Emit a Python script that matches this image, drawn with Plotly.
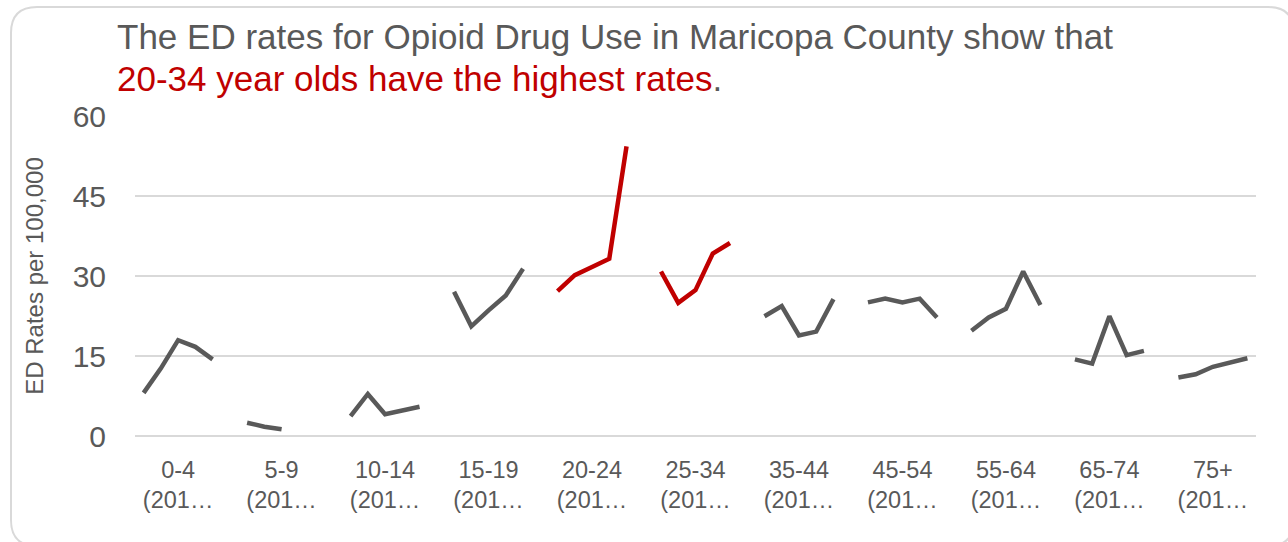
import plotly.graph_objects as go

# ---- data ----
age_groups = ["0-4", "5-9", "10-14", "15-19", "20-24", "25-34",
              "35-44", "45-54", "55-64", "65-74", "75+"]
tick_labels = [g + "<br>(201…" for g in age_groups]
highlight = ["20-24", "25-34"]
rates = {
    "0-4":   [8.1, 12.7, 18.0, 16.75, 14.4],
    "5-9":   [2.5, 1.75, 1.25, None, None],
    "10-14": [3.75, 7.9, 4.1, 4.9, 5.5],
    "15-19": [27.1, 20.6, 23.6, 26.4, 31.4],
    "20-24": [27.2, 30.2, 31.75, 33.3, 54.4],
    "25-34": [30.9, 25.0, 27.4, 34.25, 36.25],
    "35-44": [22.5, 24.4, 18.9, 19.6, 25.7],
    "45-54": [25.1, 25.8, 25.1, 25.8, 22.25],
    "55-64": [19.75, 22.25, 23.9, 30.9, 24.6],
    "65-74": [14.4, 13.6, 22.5, 15.2, 16.0],
    "75+":   [11.0, 11.6, 13.0, 13.8, 14.6],
}
y_ticks = [0, 15, 30, 45, 60]
title_line1 = "The ED rates for Opioid Drug Use in Maricopa County show that"
title_line2_red = "20-34 year olds have the highest rates"

GRAY = "#595959"
RED = "#C00000"
FONT = "Liberation Sans, Arial, sans-serif"

W, H = 1288, 542
L, R, T, B = 135, 32, 116, 106
PW, PH = W - L - R, H - T - B
YMAX = 60.1

SLOTS = 6  # 5 periods + a blank slot between groups

fig = go.Figure()
for gi, g in enumerate(age_groups):
    vals = rates[g]
    xs = [gi * SLOTS + k for k in range(len(vals))]
    fig.add_trace(go.Scatter(
        x=xs, y=vals, mode="lines", name=g, showlegend=False,
        line=dict(color=RED if g in highlight else GRAY, width=4.5),
        connectgaps=False, hoverinfo="skip",
    ))


def px2paper(px, py):
    return (px - L) / PW, (T + PH - py) / PH


def rounded_path(x0, y0, x1, y1, r):
    def P(px, py):
        a, b = px2paper(px, py)
        return f"{a:.5f},{b:.5f}"
    return (f"M {P(x0 + r, y0)} L {P(x1 - r, y0)} Q {P(x1, y0)} {P(x1, y0 + r)} "
            f"L {P(x1, y1 - r)} Q {P(x1, y1)} {P(x1 - r, y1)} "
            f"L {P(x0 + r, y1)} Q {P(x0, y1)} {P(x0, y1 - r)} "
            f"L {P(x0, y0 + r)} Q {P(x0, y0)} {P(x0 + r, y0)} Z")


fig.add_shape(type="path", xref="paper", yref="paper",
              path=rounded_path(11, 7, 1294, 546, 26),
              line=dict(color="#D9D9D9", width=2), layer="below")

# title lines as annotations
ax, ay1 = px2paper(115, 36)
_, ay2 = px2paper(115, 79)
fig.add_annotation(x=ax, y=ay1, xref="paper", yref="paper",
                   xanchor="left", yanchor="middle", showarrow=False,
                   text=title_line1,
                   font=dict(family=FONT, size=35, color=GRAY))
fig.add_annotation(x=ax, y=ay2, xref="paper", yref="paper",
                   xanchor="left", yanchor="middle", showarrow=False,
                   text=f"<span style='color:{RED}'>{title_line2_red}</span>.",
                   font=dict(family=FONT, size=35, color=GRAY))

fig.update_layout(
    width=W, height=H,
    margin=dict(l=L, r=R, t=T, b=B, autoexpand=False),
    paper_bgcolor="white", plot_bgcolor="white",
    font=dict(family=FONT, color=GRAY),
    xaxis=dict(range=[-0.5, len(age_groups) * SLOTS - 1.5],
               tickmode="array",
               tickvals=[gi * SLOTS + 2 for gi in range(len(age_groups))],
               ticktext=tick_labels,
               tickfont=dict(size=23.5, color=GRAY),
               showgrid=False, zeroline=False, showline=False,
               ticks="", ticklabelstandoff=17),
    yaxis=dict(range=[0, YMAX], tickmode="array", tickvals=y_ticks,
               tickfont=dict(size=30, color=GRAY),
               showgrid=True, gridcolor="#D9D9D9", gridwidth=1.5,
               zeroline=True, zerolinecolor="#D9D9D9", zerolinewidth=1.5,
               showline=False, ticks="", ticklabelstandoff=28,
               title=dict(text="ED Rates per 100,000",
                          font=dict(size=24, color=GRAY), standoff=22)),
)

fig.write_html("out.html",
               config={"displayModeBar": False},
               post_script="document.body.style.margin='0px';")
